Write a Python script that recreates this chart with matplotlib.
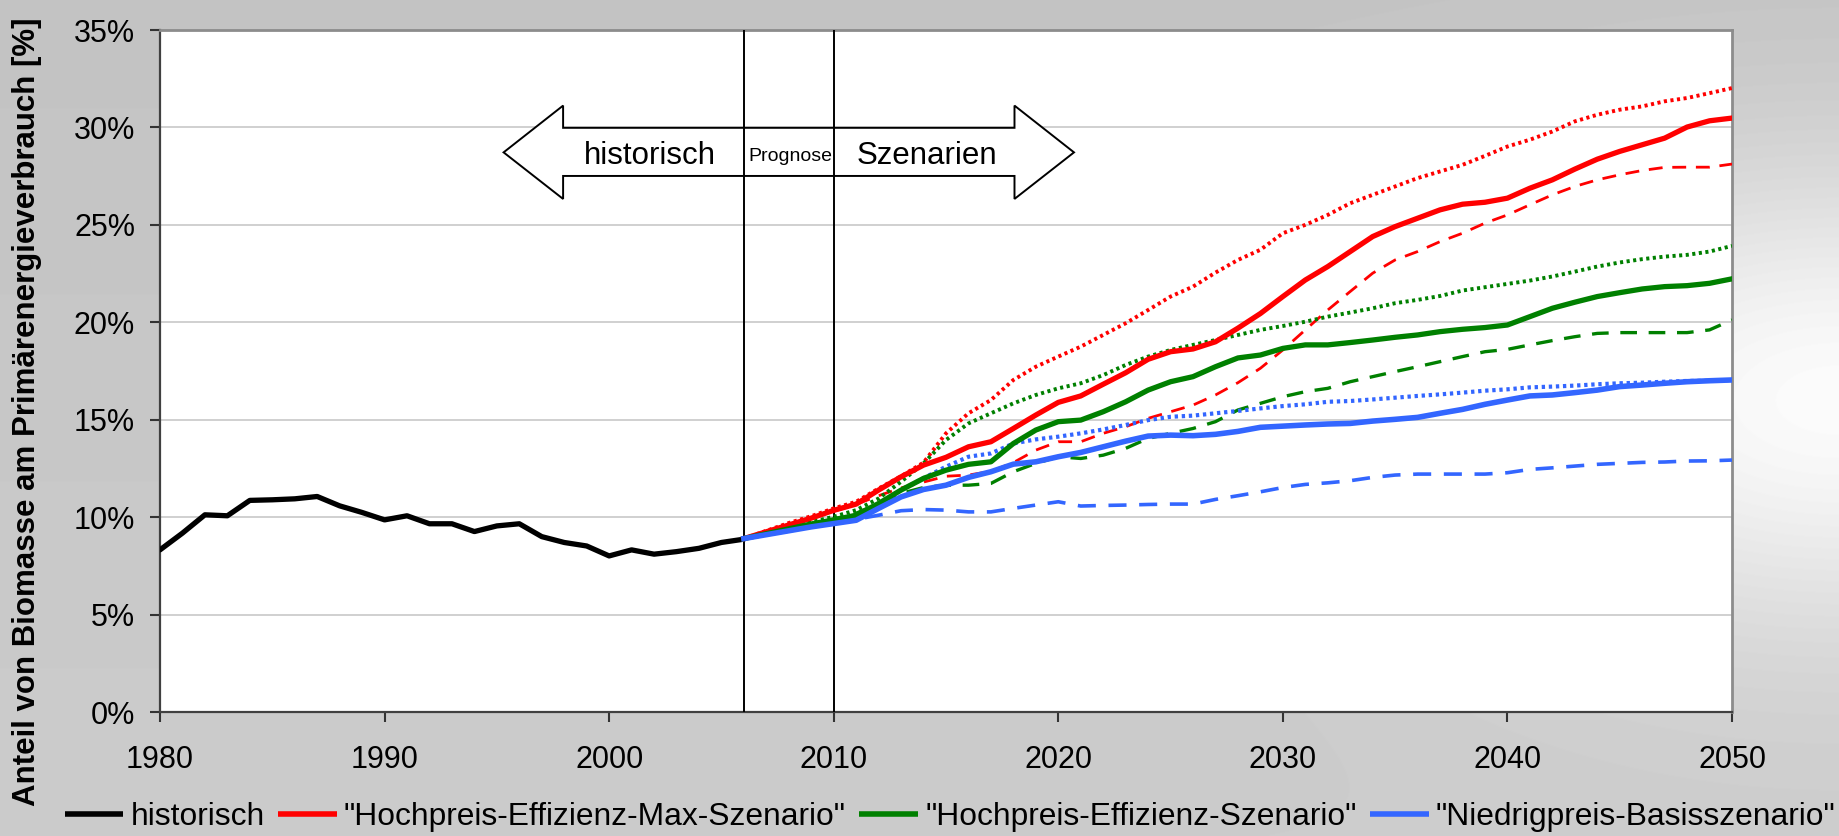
import numpy as np
import matplotlib
matplotlib.use("Agg")
import matplotlib.pyplot as plt
from matplotlib.patches import Polygon

plt.rcParams['font.family'] = ['Liberation Sans', 'DejaVu Sans']

# ---------------- data ----------------
hist_years = list(range(1980, 2007))
hist_vals = [8.32, 9.18, 10.12, 10.07, 10.86, 10.89, 10.94, 11.06, 10.58, 10.24,
             9.86, 10.07, 9.66, 9.66, 9.26, 9.55, 9.66, 9.00, 8.70, 8.52,
             8.01, 8.32, 8.10, 8.23, 8.40, 8.70, 8.87]

scen_years = list(range(2006, 2051))

red_solid = [8.9, 9.25, 9.6, 9.95, 10.35, 10.67, 11.39, 12.07, 12.67, 13.07,
             13.61, 13.87, 14.55, 15.24, 15.89, 16.22, 16.82, 17.41, 18.10, 18.49,
             18.63, 19.0, 19.7, 20.45, 21.32, 22.17, 22.86, 23.63, 24.40, 24.91,
             25.34, 25.77, 26.06, 26.16, 26.37, 26.88, 27.31, 27.86, 28.37, 28.77,
             29.11, 29.45, 30.02, 30.34, 30.48]
red_dot = [8.9, 9.3, 9.7, 10.05, 10.45, 10.79, 11.47, 12.1, 12.8, 14.3,
           15.33, 16.01, 17.04, 17.72, 18.24, 18.75, 19.35, 19.95, 20.63, 21.32,
           21.83, 22.55, 23.2, 23.72, 24.57, 25.0, 25.51, 26.11, 26.54, 26.97,
           27.40, 27.74, 28.08, 28.54, 29.02, 29.37, 29.79, 30.31, 30.65, 30.91,
           31.08, 31.34, 31.51, 31.76, 32.02]
red_dash = [8.9, 9.25, 9.6, 9.95, 10.3, 10.65, 11.1, 11.5, 11.8, 12.1,
            12.16, 12.35, 12.8, 13.44, 13.87, 13.87, 14.30, 14.64, 15.07, 15.41,
            15.75, 16.27, 16.9, 17.64, 18.58, 19.61, 20.63, 21.58, 22.52, 23.20,
            23.63, 24.14, 24.57, 25.09, 25.51, 26.03, 26.54, 26.97, 27.31, 27.57,
            27.79, 27.95, 27.96, 27.96, 28.12]

green_solid = [8.9, 9.15, 9.4, 9.65, 9.86, 10.10, 10.70, 11.39, 11.99, 12.41,
               12.71, 12.84, 13.78, 14.47, 14.90, 14.98, 15.41, 15.92, 16.52, 16.95,
               17.21, 17.72, 18.17, 18.32, 18.66, 18.84, 18.84, 18.96, 19.09, 19.23,
               19.35, 19.52, 19.64, 19.73, 19.86, 20.29, 20.72, 21.03, 21.32, 21.52,
               21.71, 21.83, 21.88, 22.0, 22.23]
green_dot = [8.9, 9.2, 9.5, 9.75, 10.02, 10.36, 10.96, 11.82, 12.76, 13.96,
             14.81, 15.33, 15.84, 16.27, 16.61, 16.87, 17.29, 17.81, 18.24, 18.58,
             18.84, 19.09, 19.35, 19.61, 19.81, 20.03, 20.29, 20.50, 20.72, 20.98,
             21.15, 21.35, 21.63, 21.80, 21.97, 22.14, 22.35, 22.60, 22.86, 23.07,
             23.24, 23.37, 23.46, 23.63, 23.92]
green_dash = [8.9, 9.15, 9.4, 9.65, 9.9, 10.2, 10.7, 11.22, 11.52, 11.64,
              11.64, 11.73, 12.33, 12.76, 13.10, 13.01, 13.18, 13.53, 14.04, 14.30,
              14.55, 14.90, 15.5, 15.84, 16.18, 16.44, 16.61, 16.95, 17.21, 17.47,
              17.72, 17.98, 18.24, 18.49, 18.61, 18.84, 19.06, 19.26, 19.43, 19.47,
              19.47, 19.47, 19.47, 19.61, 20.12]

blue_solid = [8.9, 9.1, 9.3, 9.5, 9.67, 9.84, 10.45, 11.04, 11.42, 11.64,
              12.04, 12.33, 12.72, 12.84, 13.10, 13.32, 13.61, 13.90, 14.16, 14.21,
              14.18, 14.25, 14.40, 14.61, 14.67, 14.73, 14.78, 14.81, 14.93, 15.02,
              15.12, 15.33, 15.53, 15.79, 16.01, 16.22, 16.27, 16.39, 16.52, 16.70,
              16.78, 16.87, 16.95, 17.00, 17.04]
blue_dot = [8.9, 9.1, 9.3, 9.5, 9.7, 9.93, 10.62, 11.39, 12.0, 12.59,
            13.10, 13.27, 13.78, 13.99, 14.13, 14.30, 14.50, 14.73, 14.98, 15.15,
            15.21, 15.33, 15.45, 15.58, 15.70, 15.79, 15.92, 15.96, 16.04, 16.13,
            16.22, 16.30, 16.39, 16.49, 16.56, 16.66, 16.70, 16.75, 16.82, 16.87,
            16.90, 16.95, 16.99, 17.00, 17.04]
blue_dash = [8.9, 9.1, 9.3, 9.5, 9.7, 9.89, 10.10, 10.33, 10.39, 10.36,
             10.27, 10.27, 10.45, 10.62, 10.79, 10.57, 10.60, 10.62, 10.65, 10.67,
             10.67, 10.91, 11.10, 11.3, 11.52, 11.68, 11.76, 11.87, 12.04, 12.16,
             12.21, 12.21, 12.21, 12.21, 12.28, 12.45, 12.53, 12.62, 12.71, 12.76,
             12.81, 12.83, 12.88, 12.89, 12.93]

labels = ['historisch', '"Hochpreis-Effizienz-Max-Szenario"',
          '"Hochpreis-Effizienz-Szenario"', '"Niedrigpreis-Basisszenario"']
x_ticks = [1980, 1990, 2000, 2010, 2020, 2030, 2040, 2050]
y_ticks = [0, 5, 10, 15, 20, 25, 30, 35]
y_ticklabels = ['0%', '5%', '10%', '15%', '20%', '25%', '30%', '35%']
period_lines = [2006, 2010]

RED, GREEN, BLUE = '#ff0000', '#008000', '#3366ff'

# ---------------- figure ----------------
W, H = 1839, 836
fig = plt.figure(figsize=(W / 100, H / 100), dpi=100)

# background gradient
bg = fig.add_axes([0, 0, 1, 1], zorder=-10)
yy, xx = np.mgrid[0:H, 0:W]
base = 0.765 + 0.035 * (yy / H)
f = np.exp(-((W - xx) / 420.0) ** 2) * np.exp(-((yy - 400) / 230.0) ** 2)
img = base + (0.985 - base) * f
bg.imshow(img, cmap='gray', vmin=0, vmax=1, aspect='auto', extent=[0, 1, 0, 1])
bg.axis('off')

ax = fig.add_axes([160 / W, 1 - 712 / H, 1572 / W, 682 / H])
ax.set_facecolor('white')
ax.set_xlim(1980, 2050)
ax.set_ylim(0, 35)
ax.set_xticks(x_ticks)
ax.set_yticks(y_ticks)
ax.set_yticklabels(y_ticklabels)
ax.grid(axis='y', color='#c8c8c8', linewidth=1.2, zorder=0)
ax.set_axisbelow(True)
ax.tick_params(axis='both', direction='out', length=7, width=1.5, colors='#333333',
               labelsize=22, labelcolor='black')
ax.tick_params(axis='x', pad=17)
ax.tick_params(axis='y', pad=11)
for s in ['left', 'bottom']:
    ax.spines[s].set_color('#404040')
    ax.spines[s].set_linewidth(1.6)
for s in ['top', 'right']:
    ax.spines[s].set_color('#8c8c8c')
    ax.spines[s].set_linewidth(2.0)

# arrow annotation
arrow_pts = [(1995.3, 28.72), (1997.95, 31.12), (1997.95, 29.98), (2018.05, 29.98),
             (2018.05, 31.12), (2020.7, 28.72), (2018.05, 26.33), (2018.05, 27.51),
             (1997.95, 27.51), (1997.95, 26.33)]
ax.add_patch(Polygon(arrow_pts, closed=True, facecolor='white', edgecolor='black',
                     linewidth=1.4, zorder=2))
for xv in period_lines:
    ax.axvline(xv, color='black', linewidth=1.4, zorder=3)
ax.text(2001.8, 28.55, 'historisch', fontsize=22.5, ha='center', va='center', zorder=6)
ax.text(2008.05, 28.5, 'Prognose', fontsize=14, ha='center', va='center', zorder=6)
ax.text(2014.15, 28.55, 'Szenarien', fontsize=22.5, ha='center', va='center', zorder=6)

# scenario lines (dashed & dotted)
dash_style = (0, (5, 3.5))
dot_style = (0, (0.8, 0.9))
ax.plot(scen_years, red_dash, color=RED, lw=2.0, ls=dash_style, zorder=4)
ax.plot(scen_years, green_dash, color=GREEN, lw=2.4, ls=dash_style, zorder=4)
ax.plot(scen_years, blue_dash, color=BLUE, lw=2.6, ls=dash_style, zorder=4)
ax.plot(scen_years, red_dot, color=RED, lw=2.8, ls=dot_style, zorder=4)
ax.plot(scen_years, green_dot, color=GREEN, lw=2.8, ls=dot_style, zorder=4)
ax.plot(scen_years, blue_dot, color=BLUE, lw=3.0, ls=dot_style, zorder=4)

# solid lines
h_hist, = ax.plot(hist_years, hist_vals, color='black', lw=3.8, zorder=5,
                  solid_joinstyle='round', solid_capstyle='round', label=labels[0])
h_red, = ax.plot(scen_years, red_solid, color=RED, lw=3.8, zorder=5,
                 solid_joinstyle='round', label=labels[1])
h_green, = ax.plot(scen_years, green_solid, color=GREEN, lw=3.8, zorder=5,
                   solid_joinstyle='round', label=labels[2])
h_blue, = ax.plot(scen_years, blue_solid, color=BLUE, lw=4.0, zorder=5,
                  solid_joinstyle='round', label=labels[3])

# y label
fig.text(27 / W, 1 - 412 / H, 'Anteil von Biomasse am Primärenergieverbrauch [%]',
         rotation=90, ha='center', va='center', fontsize=22.5, fontweight='bold')

# legend
leg = fig.legend(handles=[h_hist, h_red, h_green, h_blue], labels=labels,
                 loc='center', bbox_to_anchor=(950 / W, 1 - 817 / H), ncol=4,
                 frameon=False, fontsize=22.9, handlelength=1.85, handletextpad=0.22,
                 columnspacing=0.42, borderpad=0, borderaxespad=0)
for lh in leg.get_lines():
    lh.set_linewidth(4.0)
    lh.set_solid_capstyle('butt')

fig.savefig('out.png', dpi=100)
